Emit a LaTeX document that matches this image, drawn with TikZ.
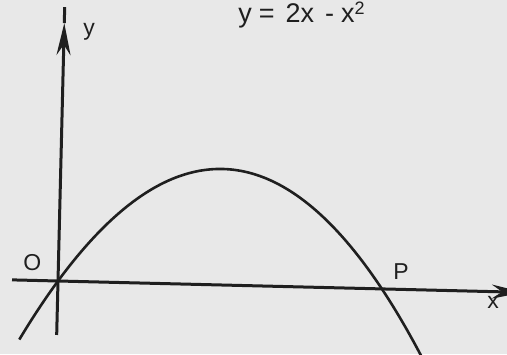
\documentclass[tikz,border=0pt]{standalone}
\usepackage{fontspec}
\setmainfont{Liberation Sans}
\usepackage{tikz}
\usetikzlibrary{arrows.meta,calc,positioning}

\definecolor{paper}{gray}{0.91}
\definecolor{ink}{gray}{0.12}

\begin{document}
\begin{tikzpicture}[x=0.5pt, y=0.5pt,
  axis/.style={ink, line width=1.5pt},
  tip/.style={-{Stealth[length=16pt,width=7pt]}},
  curve/.style={ink, line width=1.3pt},
  lbl/.style={ink, inner sep=0pt, anchor=base west, font=\fontsize{11.5}{14}\selectfont}]
  \fill[paper] (0,0) rectangle (507,354);
  \useasboundingbox (0,0) rectangle (507,354);
  \clip (0,0) rectangle (507,354);
  % scanned page sits a little askew
  \begin{scope}[shift={(58,73)}, rotate=-1.4]
    \coordinate (O) at (0,0);
    \coordinate (xl) at (-46,0);
    \coordinate (xr) at (466,0);
    \coordinate (yb) at (0,-54);
    \coordinate (yt) at (0,258);
    \coordinate (ytop) at (0,274);
    \draw[axis,tip] (xl) -- (xr);
    \draw[axis,tip] (yb) -- (yt);
    \draw[axis] (yt) -- (ytop);
    \draw[curve] plot[domain=-0.23:2.45, samples=80, smooth]
      ({162*\x}, {116*(2*\x-\x*\x)});
  \end{scope}
  \node[lbl] (ylab) at (83,318) {y};
  \node[lbl] (olab) at (23,84) {O};
  \node[lbl] (plab) at (393,75) {P};
  \node[lbl] (xlab) at (487,46) {x};
  \node[lbl, font=\fontsize{13.5}{16}\selectfont] (eqn) at (238,331)
    {y\hspace{3.5pt}=\hspace{5.5pt}2x\hspace{5.5pt}-\hspace{3.5pt}x\raisebox{4pt}{\fontsize{9}{10}\selectfont 2}};
\end{tikzpicture}
\end{document}
